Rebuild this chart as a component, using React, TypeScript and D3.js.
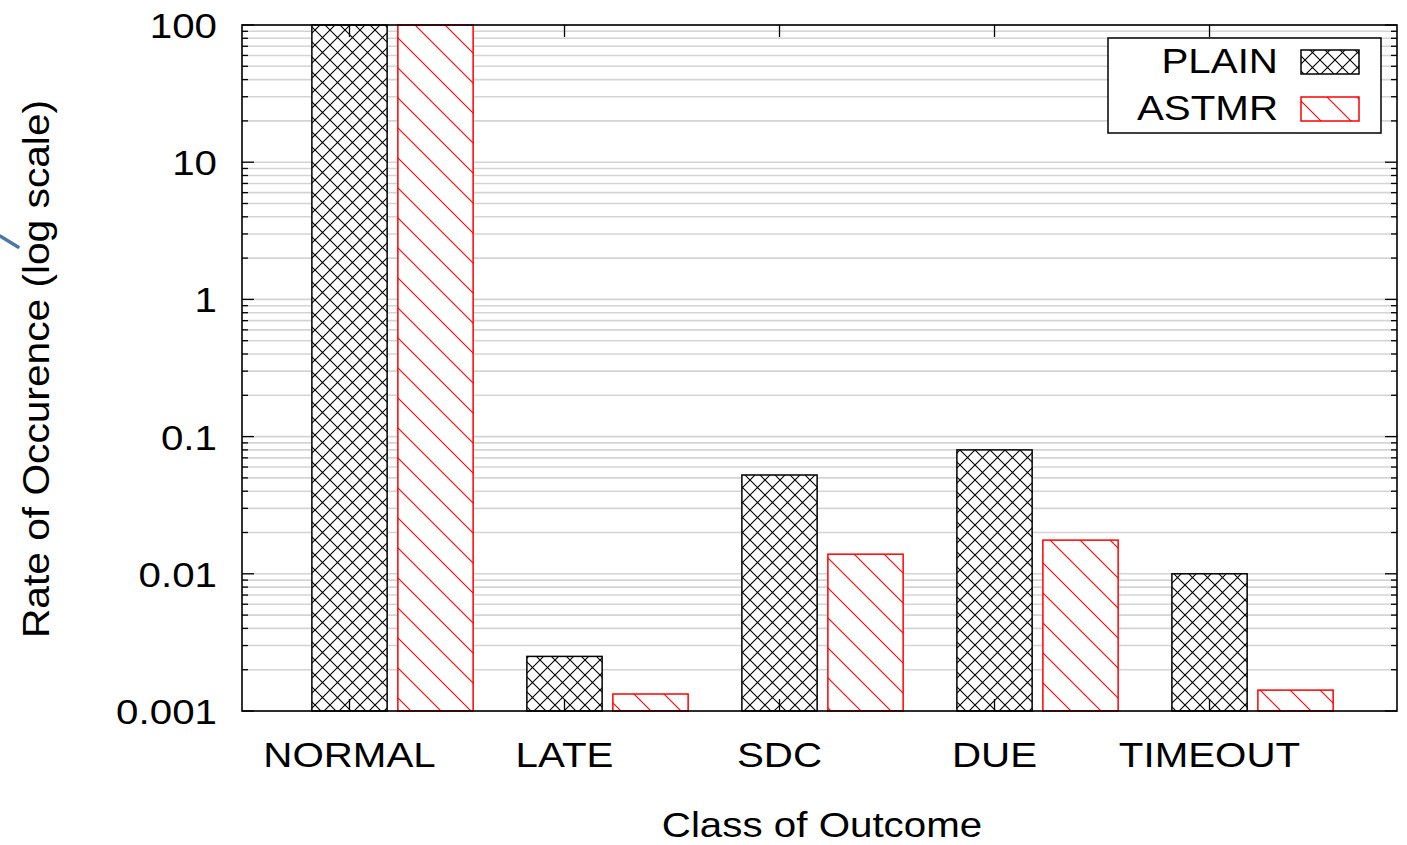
import React from "react";
import * as d3 from "d3";

const categories = ["NORMAL", "LATE", "SDC", "DUE", "TIMEOUT"];
const plainValues = [100, 0.0025, 0.0525, 0.08, 0.01];
const astmrValues = [100, 0.00133, 0.0139, 0.0176, 0.00142];
const yTickValues = [100, 10, 1, 0.1, 0.01, 0.001];
const yTickLabels = ["100", "10", "1", "0.1", "0.01", "0.001"];
const seriesNames = ["PLAIN", "ASTMR"];

const W = 1407, H = 845;
const left = 242, right = 1397, top = 25, bottom = 711;
const FONT = "'Liberation Sans', Arial, sans-serif";
const FS = 36;
const SX = 1.12;

function T(props: { x: number; y: number; anchor: string; children: React.ReactNode; dy?: string; rotate?: number; sx?: number; fs?: number }) {
  const { x, y, anchor, children, dy, rotate, sx, fs } = props;
  return (
    <g transform={`translate(${x},${y})${rotate ? ` rotate(${rotate})` : ""} scale(${sx ?? SX},1)`}>
      <text x={0} y={0} dy={dy} textAnchor={anchor} fontFamily={FONT} fontSize={fs ?? FS} fill="#000">
        {children}
      </text>
    </g>
  );
}

export default function App() {
  const x = d3.scaleLinear().domain([-0.5, 4.872]).range([left, right]);
  const y = d3.scaleLog().domain([0.001, 100]).range([bottom, top]);
  const barW = x(0.35) - x(0);
  const offset = 0.4;

  const minor: number[] = [];
  for (let e = -3; e < 2; e++) {
    for (let m = 1; m <= 9; m++) minor.push(m * Math.pow(10, e));
  }
  minor.push(100);

  const series = [
    { name: seriesNames[0], values: plainValues, stroke: "#000", fill: "url(#cross)", off: 0 },
    { name: seriesNames[1], values: astmrValues, stroke: "#ff0000", fill: "url(#diag)", off: offset },
  ];

  return (
    <svg width={W} height={H} style={{ position: "absolute", left: 0, top: 0, background: "#fff" }}>
      <defs>
        <pattern id="cross" patternUnits="userSpaceOnUse" width={15} height={15}>
          <rect width={15} height={15} fill="#fff" />
          <path d="M0,0L15,15M15,0L0,15M-1,14L1,16M14,-1L16,1" stroke="#000" strokeWidth={1.1} />
        </pattern>
        <pattern id="diag" patternUnits="userSpaceOnUse" width={30} height={30}>
          <rect width={30} height={30} fill="#fff" />
          <path d="M0,0L30,30M-2,28L2,32M28,-2L32,2" stroke="#ff0000" strokeWidth={1.1} />
        </pattern>
      </defs>

      {/* grid */}
      {minor.map((v, i) => (
        <line key={"g" + i} x1={left} x2={right} y1={y(v)} y2={y(v)} stroke="#d4d4d4" strokeWidth={1.6} />
      ))}

      {/* bars */}
      {series.map((s) =>
        s.values.map((v, i) => (
          <rect
            key={s.name + i}
            x={x(i + s.off) - barW / 2}
            y={y(v)}
            width={barW}
            height={y(0.001) - y(v)}
            fill={s.fill}
            stroke={s.stroke}
            strokeWidth={1.5}
          />
        ))
      )}

      {/* ticks */}
      {minor.map((v, i) => {
        const major = Math.abs(Math.log10(v) - Math.round(Math.log10(v))) < 1e-9;
        const len = major ? 12 : 6;
        return (
          <g key={"t" + i}>
            <line x1={left} x2={left + len} y1={y(v)} y2={y(v)} stroke="#000" strokeWidth={1.3} />
            <line x1={right} x2={right - len} y1={y(v)} y2={y(v)} stroke="#000" strokeWidth={1.3} />
          </g>
        );
      })}
      {categories.map((c, i) => (
        <g key={"xt" + i}>
          <line x1={x(i)} x2={x(i)} y1={top} y2={top + 12} stroke="#000" strokeWidth={1.3} />
          <line x1={x(i)} x2={x(i)} y1={bottom} y2={bottom - 12} stroke="#000" strokeWidth={1.3} />
        </g>
      ))}

      {/* frame */}
      <rect x={left} y={top} width={right - left} height={bottom - top} fill="none" stroke="#000" strokeWidth={1.6} />

      {/* y tick labels */}
      {yTickValues.map((v, i) => (
        <T key={"yl" + i} x={217} y={y(v)} dy="0.36em" anchor="end">
          {yTickLabels[i]}
        </T>
      ))}

      {/* x labels */}
      {categories.map((c, i) => (
        <T key={"xl" + i} x={x(i)} y={767} anchor="middle">
          {c}
        </T>
      ))}

      <T x={822} y={837} anchor="middle">Class of Outcome</T>
      <T x={49} y={369} anchor="middle" rotate={-90} fs={37} sx={1.1}>
        Rate of Occurence (log scale)
      </T>

      {/* legend */}
      <rect x={1108} y={38} width={273} height={95} fill="#fff" stroke="#000" strokeWidth={1.5} />
      {series.map((s, i) => (
        <g key={"lg" + i}>
          <T x={1278} y={73 + i * 47} anchor="end">{s.name}</T>
          <rect x={1301} y={50 + i * 47} width={58} height={24} fill={s.fill} stroke={s.stroke} strokeWidth={1.5} />
        </g>
      ))}

      {/* stray blue mark */}
      <line x1={0} y1={236} x2={18} y2={247} stroke="#4a78a8" strokeWidth={3.5} strokeLinecap="round" />
    </svg>
  );
}
